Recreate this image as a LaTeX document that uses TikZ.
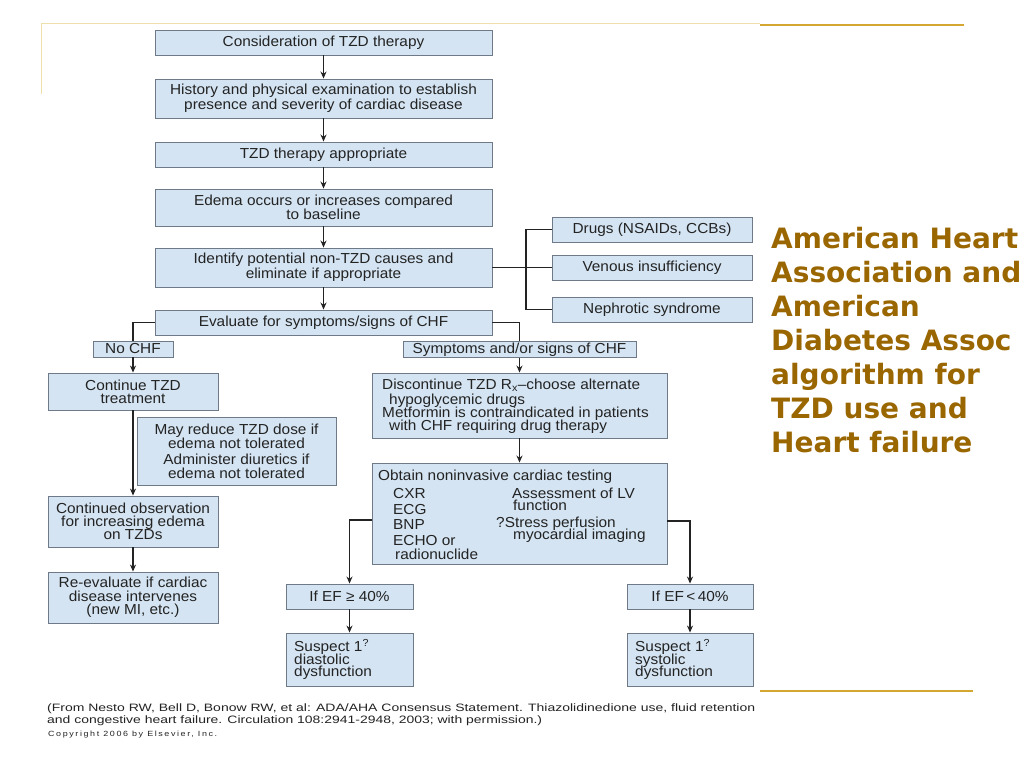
\documentclass[tikz,border=0pt]{standalone}
\usepackage{fontspec}
\usepackage{graphicx}
\setmainfont{Liberation Sans}[FakeStretch=1.06]
\newfontfamily\goldfont{DejaVu Sans}
\newfontfamily\citefont{Liberation Sans}
\usetikzlibrary{arrows.meta}
\definecolor{boxfill}{RGB}{212,228,242}
\definecolor{boxline}{RGB}{110,122,135}
\definecolor{txt}{RGB}{35,35,35}
\definecolor{goldtxt}{RGB}{153,102,0}
\definecolor{goldline}{RGB}{212,168,48}
\definecolor{paleline}{RGB}{238,224,170}
\newsavebox\stbox
\newcommand\stretchto[2]{\sbox\stbox{#2}\pgfmathsetmacro\stf{#1/\the\wd\stbox}\scalebox{\stf}[1]{\usebox\stbox}}
\begin{document}
\begin{tikzpicture}[x=1pt,y=-1pt,
  box/.style={draw=boxline, fill=boxfill, line width=0.9pt, inner sep=0pt, align=center, text=txt, font=\fontsize{14.5}{13.3}\selectfont},
  lbl/.style={inner sep=0pt, anchor=base west, text=txt, font=\fontsize{14.5}{13.3}\selectfont},
  cite/.style={inner sep=0pt, anchor=base west, text=txt, font=\citefont\fontsize{10.7}{12}\selectfont},
  conn/.style={draw=txt, line width=1.5pt},
  arr/.style={conn, -{Stealth[length=7pt,width=6pt]}},
]
\useasboundingbox[fill=white] (0,0) rectangle (1024,768);

% decorative lines
\draw[paleline, line width=1pt] (41,94) -- (41,24) -- (760,24);
\draw[goldline, line width=2.5pt] (760,25) -- (964,25);
\draw[goldline, line width=2.5pt] (760,691) -- (973,691);

% main column
\node[box, minimum width=337, minimum height=25] (b1) at (323.5,42.5) {Consideration of TZD therapy};
\node[box, minimum width=337, minimum height=39] (b2) at (323.5,98.5) {History and physical examination to establish\\presence and severity of cardiac disease};
\node[box, minimum width=337, minimum height=25] (b3) at (323.5,154.5) {TZD therapy appropriate};
\node[box, minimum width=337, minimum height=37] (b4) at (323.5,207.5) {Edema occurs or increases compared\\to baseline};
\node[box, minimum width=337, minimum height=39] (b5) at (323.5,267.5) {Identify potential non-TZD causes and\\eliminate if appropriate};
\node[box, minimum width=337, minimum height=25] (ev) at (323.5,322.5) {Evaluate for symptoms/signs of CHF};

% side causes
\node[box, minimum width=200, minimum height=25] (drugs) at (652,229.5) {Drugs (NSAIDs, CCBs)};
\node[box, minimum width=200, minimum height=25] (ven) at (652,267.5) {Venous insufficiency};
\node[box, minimum width=200, minimum height=25] (neph) at (652,309.5) {Nephrotic syndrome};
\coordinate (br) at (526,267.5);

% left branch
\node[box, minimum width=80, minimum height=16] (nochf) at (133,349) {No CHF};
\node[box, minimum width=170, minimum height=37] (cont) at (133,391.5) {Continue TZD\\treatment};
\node[box, minimum width=199, minimum height=68] (may) at (236.5,451) {May reduce TZD dose if\\edema not tolerated\\[3pt]Administer diuretics if\\edema not tolerated};
\node[box, minimum width=170, minimum height=51] (obs) at (133,521.5) {Continued observation\\for increasing edema\\on TZDs};
\node[box, minimum width=170, minimum height=51] (reev) at (133,597.5) {Re-evaluate if cardiac\\disease intervenes\\(new MI, etc.)};

% right branch
\node[box, minimum width=233, minimum height=16] (sym) at (519.5,349.5) {Symptoms and/or signs of CHF};
\node[box, minimum width=295, minimum height=65] (disc) at (519.5,405.5) {};
\node[lbl] (d1) at (382,389.5) {Discontinue TZD R\textsubscript{x}--choose alternate};
\node[lbl] (d2) at (389,404.5) {hypoglycemic drugs};
\node[lbl] (d3) at (382,417.5) {Metformin is contraindicated in patients};
\node[lbl] (d4) at (389,430.5) {with CHF requiring drug therapy};

\node[box, minimum width=295, minimum height=101] (obt) at (519.5,513.5) {};
\node[lbl] (o0) at (378,480) {Obtain noninvasive cardiac testing};
\node[lbl] (o1) at (393,498) {CXR};
\node[lbl] (o2) at (393,514) {ECG};
\node[lbl] (o3) at (393,529) {BNP};
\node[lbl] (o4) at (393,545.5) {ECHO or};
\node[lbl] (o5) at (395,559) {radionuclide};
\node[lbl] (o6) at (512,498) {Assessment of LV};
\node[lbl] (o7) at (513,510.5) {function};
\node[lbl] (o8) at (496,527) {?Stress perfusion};
\node[lbl] (o9) at (513,539.5) {myocardial imaging};

\node[box, minimum width=127, minimum height=25] (efge) at (349.5,596.5) {If EF ≥ 40\%};
\node[box, minimum width=127, minimum height=53] (diast) at (349.5,659.5) {};
\node[lbl] (s1) at (294,651.5) {Suspect 1\textsuperscript{?}};
\node[lbl] (s2) at (294,664) {diastolic};
\node[lbl] (s3) at (294,676.5) {dysfunction};

\node[box, minimum width=126, minimum height=25] (eflt) at (690,596.5) {If EF\,<\,40\%};
\node[box, minimum width=126, minimum height=53] (syst) at (690,659.5) {};
\node[lbl] (t1) at (635,651.5) {Suspect 1\textsuperscript{?}};
\node[lbl] (t2) at (635,664) {systolic};
\node[lbl] (t3) at (635,676.5) {dysfunction};

% connectors
\draw[arr] (b1) -- (b2);
\draw[arr] (b2) -- (b3);
\draw[arr] (b3) -- (b4);
\draw[arr] (b4) -- (b5);
\draw[arr] (b5) -- (ev);
\draw[conn] (b5.east) -- (ven.west);
\draw[conn] (drugs.west) -| (br) |- (neph.west);
\draw[conn] (ev.west) -| (nochf.north);
\draw[conn] (ev.east) -| (sym.north);
\draw[arr] (nochf) -- (cont);
\draw[arr] (cont) -- (obs);
\draw[arr] (obs) -- (reev);
\draw[arr] (sym) -- (disc);
\draw[arr] (disc) -- (obt);
\draw[arr] ([yshift=-6.5pt]obt.west) -| (efge.north);
\draw[arr] ([yshift=-7.5pt]obt.east) -| (eflt.north);
\draw[arr] (efge) -- (diast);
\draw[arr] (eflt) -- (syst);

% title text
\node[inner sep=0pt, anchor=north west, align=left, text=goldtxt, font=\goldfont\bfseries\fontsize{28}{34}\selectfont] (title) at (771,227) {American Heart\\Association and\\American\\Diabetes Assoc\\algorithm for\\TZD use and\\Heart failure};

% citation
\node[cite] (c1) at (47,711.5) {\stretchto{708pt}{(From Nesto RW, Bell D, Bonow RW, et al: ADA/AHA Consensus Statement. Thiazolidinedione use, fluid retention}};
\node[cite] (c2) at (47,723.5) {\stretchto{495pt}{and congestive heart failure. Circulation 108:2941-2948, 2003; with permission.)}};
\node[cite, font=\citefont\fontsize{7.5}{9}\selectfont] (c3) at (48,736) {\stretchto{169pt}{\addfontfeature{LetterSpace=18}Copyright 2006 by Elsevier, Inc.}};
\end{tikzpicture}
\end{document}
